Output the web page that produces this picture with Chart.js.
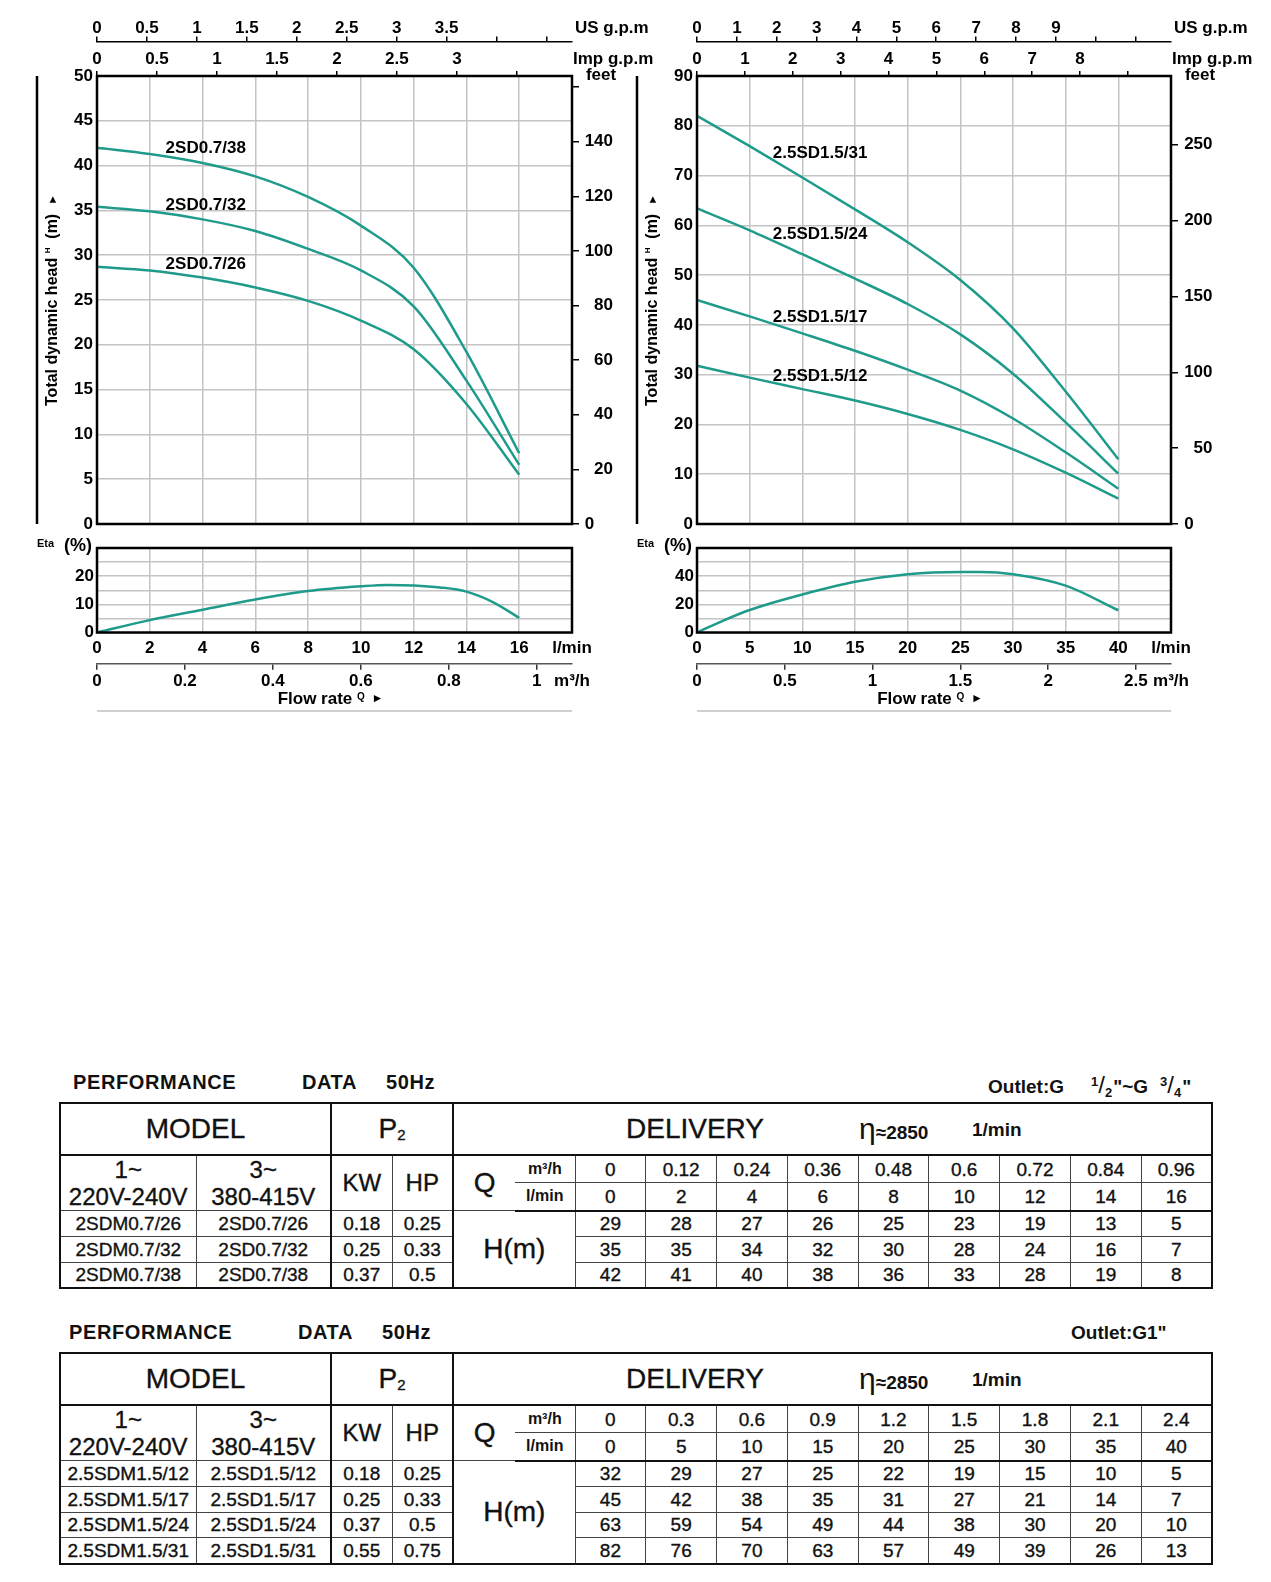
<!DOCTYPE html>
<html>
<head>
<meta charset="utf-8">
<title>2SD0.7 / 2.5SD1.5 performance curves</title>
<script src="https://cdn.jsdelivr.net/npm/chart.js@4.4.1/dist/chart.umd.min.js"></script>
<style>
  html, body { margin: 0; padding: 0; background: #fff; }
  body { position: relative; width: 1271px; height: 1582px; overflow: hidden;
         font-family: "Liberation Sans", Arial, sans-serif; color: #111; }
  canvas { position: absolute; }
  .caption { position: absolute; font-weight: bold; white-space: nowrap; line-height: 1; }
  .caption.head { font-size: 20px; letter-spacing: 0.6px; }
  .caption.outlet { font-size: 19px; }
  .fr { display: inline-block; position: relative; margin: 0 1px; }
  .fr sup { font-size: 13px; vertical-align: 7px; }
  .fr sub { font-size: 13px; vertical-align: -4px; }
  .fr .sl { font-size: 24px; font-weight: normal; }

  table.perf { position: absolute; left: 59px; width: 1152px; border-collapse: collapse;
               table-layout: fixed; border: 2px solid #111; }
  table.perf td { border: 1.5px solid #444; text-align: center; vertical-align: middle; padding: 0;
                  font-size: 19px; line-height: 1; white-space: nowrap; overflow: hidden;
                  -webkit-text-stroke: 0.35px #111; }
  table.perf tr.r1 td { height: 50px; font-size: 28px; border-bottom: 2px solid #111; }
  table.perf tr.r2 td { height: 25px; }
  table.perf tr.r3 td { height: 25px; border-bottom: 2px solid #111; }
  table.perf tr.rd td { height: 24.5px; }
  table.perf td.ph { font-size: 24px; line-height: 27px; }
  table.perf td.kw { font-size: 24px; }
  table.perf td.q { font-size: 28px; border-right-style: hidden; }
  table.perf td.unit { font-size: 16px; font-weight: bold; border-left-style: hidden; -webkit-text-stroke: 0; }
  table.perf td.hm { font-size: 28px; }
  table.perf td.sep { border-right: 2px solid #111; }
  table.perf td.deliv { position: relative; text-align: left; }
  td.deliv span { position: absolute; top: 50%; transform: translateY(-50%); white-space: nowrap; }
  td.deliv .rpm { font-weight: bold; font-size: 19px; -webkit-text-stroke: 0; }
  td.deliv .rpm b { font-size: 30px; font-weight: normal; }
  .p2 { font-size: 15px; vertical-align: -2px; }
</style>
</head>
<body>
<canvas id="headA" width="665" height="540" style="left:0;top:0"></canvas>
<canvas id="etaA" width="665" height="195" style="left:0;top:530px"></canvas>
<canvas id="headB" width="646" height="540" style="left:625px;top:0"></canvas>
<canvas id="etaB" width="646" height="195" style="left:625px;top:530px"></canvas>

<div class="caption head" style="left:73px;top:1072px">PERFORMANCE</div>
<div class="caption head" style="left:302px;top:1072px">DATA</div>
<div class="caption head" style="left:386px;top:1072px">50Hz</div>
<div class="caption outlet" style="left:988px;top:1073px">Outlet:G<span style="margin-left:26px"></span><span class="fr"><sup>1</sup><span class="sl">/</span><sub>2</sub></span>"~G<span style="margin-left:11px"></span><span class="fr"><sup>3</sup><span class="sl">/</span><sub>4</sub></span>"</div>
<table class="perf" id="tableA" style="top:1102px"></table>

<div class="caption head" style="left:69px;top:1322px">PERFORMANCE</div>
<div class="caption head" style="left:298px;top:1322px">DATA</div>
<div class="caption head" style="left:382px;top:1322px">50Hz</div>
<div class="caption outlet" style="left:1071px;top:1323px">Outlet:G1"</div>
<table class="perf" id="tableB" style="top:1352px"></table>

<script>
const FONT = '"Liberation Sans", Arial, sans-serif';
const TEAL = '#1f9b8b';
const GRID = '#c4c4c4';
const US_GAL = 3.78541;   // l per US gallon
const IMP_GAL = 4.54609;  // l per Imp gallon
const FOOT = 0.3048;      // m per foot
const M3H_PER_LPM = 0.06;

// ---- 2SD0.7 family (Q in l/min, H in m)
const flowA = [0, 2, 4, 6, 8, 10, 12, 14, 16];
// curves
const curveA26 = [28.7, 28.3, 27.5, 26.4, 24.9, 22.7, 19.5, 13.4, 5.5];
const curveA32 = [35.4, 34.9, 34.0, 32.7, 30.7, 28.3, 24.3, 16.0, 6.6];
const curveA38 = [42.0, 41.3, 40.3, 38.8, 36.5, 33.3, 28.6, 19.2, 7.9];
// rounded values printed in the table
const headA26 = [29, 28, 27, 26, 25, 23, 19, 13, 5];
const headA32 = [35, 35, 34, 32, 30, 28, 24, 16, 7];
const headA38 = [42, 41, 40, 38, 36, 33, 28, 19, 8];
const namesA = ['2SD0.7/26', '2SD0.7/32', '2SD0.7/38'];
const etaFlowA = [0, 2, 4, 6, 8, 10, 11, 12, 13, 14, 15, 16];
const etaA = [0, 4.4, 8.1, 11.7, 14.7, 16.4, 16.9, 16.7, 16.0, 14.5, 10.8, 5.2];

const lpmTicksA = [0, 2, 4, 6, 8, 10, 12, 14, 16, 18];
const headTicksA = [0, 5, 10, 15, 20, 25, 30, 35, 40, 45, 50];
const feetTicksA = [0, 20, 40, 60, 80, 100, 120, 140, 160];
const usTicksA = [0, 0.5, 1, 1.5, 2, 2.5, 3, 3.5, 4, 4.5];
const impTicksA = [0, 0.5, 1, 1.5, 2, 2.5, 3, 3.5];
const m3TicksA = [0, 0.2, 0.4, 0.6, 0.8, 1];
const etaTicksA = [0, 5, 10, 15, 20, 25, 30];

// ---- 2.5SD1.5 family
const flowB = [0, 5, 10, 15, 20, 25, 30, 35, 40];
const curveB12 = [31.8, 29.4, 27.1, 24.8, 22.1, 18.9, 15.0, 10.3, 5.1];
const curveB17 = [45.0, 41.7, 38.3, 34.8, 31.0, 26.8, 21.2, 14.4, 7.1];
const curveB24 = [63.4, 59.0, 54.2, 49.3, 44.2, 38.1, 30.2, 20.4, 10.1];
const curveB31 = [82.0, 75.9, 69.6, 63.2, 56.6, 49.0, 39.3, 26.6, 13.0];
const headB12 = [32, 29, 27, 25, 22, 19, 15, 10, 5];
const headB17 = [45, 42, 38, 35, 31, 27, 21, 14, 7];
const headB24 = [63, 59, 54, 49, 44, 38, 30, 20, 10];
const headB31 = [82, 76, 70, 63, 57, 49, 39, 26, 13];
const namesB = ['2.5SD1.5/12', '2.5SD1.5/17', '2.5SD1.5/24', '2.5SD1.5/31'];
const etaFlowB = [0, 2.5, 5, 10, 15, 20, 25, 27, 30, 35, 40];
const etaB = [0, 8.5, 16, 27, 36, 41.4, 43, 43, 41.4, 33.3, 15.8];

const lpmTicksB = [0, 5, 10, 15, 20, 25, 30, 35, 40, 45];
const headTicksB = [0, 10, 20, 30, 40, 50, 60, 70, 80, 90];
const feetTicksB = [0, 50, 100, 150, 200, 250];
const usTicksB = [0, 1, 2, 3, 4, 5, 6, 7, 8, 9, 10, 11];
const impTicksB = [0, 1, 2, 3, 4, 5, 6, 7, 8, 9];
const m3TicksB = [0, 0.5, 1, 1.5, 2, 2.5];
const etaTicksB = [0, 10, 20, 30, 40, 50, 60];

// ---- table columns
const qM3A = ['0', '0.12', '0.24', '0.36', '0.48', '0.6', '0.72', '0.84', '0.96'];
const qM3B = ['0', '0.3', '0.6', '0.9', '1.2', '1.5', '1.8', '2.1', '2.4'];
const singleA = ['2SDM0.7/26', '2SDM0.7/32', '2SDM0.7/38'];
const kwA = ['0.18', '0.25', '0.37'];
const hpA = ['0.25', '0.33', '0.5'];
const singleB = ['2.5SDM1.5/12', '2.5SDM1.5/17', '2.5SDM1.5/24', '2.5SDM1.5/31'];
const kwB = ['0.18', '0.25', '0.37', '0.55'];
const hpB = ['0.25', '0.33', '0.5', '0.75'];

const tickFont = { family: FONT, size: 17, weight: 'bold' };

function tickList(values) {
  return scale => { scale.ticks = values.map(v => ({ value: v })); };
}
function fixSize(size) {
  return scale => {
    if (scale.isHorizontal()) {
      scale.height = size; scale.paddingLeft = 0; scale.paddingRight = 0;
    } else {
      scale.width = size; scale.paddingTop = 0; scale.paddingBottom = 0;
    }
  };
}
function valueAt(points, x) {
  for (let i = 1; i < points.length; i++) {
    if (x <= points[i].x) {
      const a = points[i - 1], b = points[i];
      return a.y + (b.y - a.y) * (x - a.x) / (b.x - a.x);
    }
  }
  return points[points.length - 1].y;
}

function drawParts(ctx, parts, cx, cy) {
  let w = 0;
  parts.forEach(p => { ctx.font = p.f; p.w = ctx.measureText(p.t).width; w += p.w; });
  let x = cx - w / 2;
  parts.forEach(p => { ctx.font = p.f; ctx.fillText(p.t, x, cy + p.dy); x += p.w; });
}

function drawHeadTitle(ctx, x, y) {
  ctx.save();
  ctx.translate(x, y);
  ctx.rotate(-Math.PI / 2);
  ctx.textBaseline = 'middle';
  ctx.textAlign = 'left';
  drawParts(ctx, [
    { t: 'Total dynamic head ', f: 'bold 16px ' + FONT, dy: 0 },
    { t: 'H', f: 'bold 8px ' + FONT, dy: -5 },
    { t: '  (m)  ', f: 'bold 16px ' + FONT, dy: 0 },
    { t: '\u25BA', f: '11px ' + FONT, dy: 0 }
  ], 0, 0);
  ctx.restore();
}

function frame(ctx, a) {
  ctx.strokeStyle = '#000';
  ctx.lineWidth = 2.5;
  ctx.strokeRect(a.left, a.top, a.right - a.left, a.bottom - a.top);
}

const headDecor = p => ({
  id: 'headDecor',
  afterDraw(chart) {
    const { ctx, chartArea: a, scales } = chart;
    ctx.save();
    frame(ctx, a);
    ctx.beginPath();
    ctx.moveTo(a.left - 60, a.top);
    ctx.lineTo(a.left - 60, a.bottom);
    ctx.stroke();

    ctx.fillStyle = '#000';
    ctx.font = 'bold 17px ' + FONT;
    ctx.textBaseline = 'middle';
    ctx.textAlign = 'left';
    ctx.fillText('US g.p.m', a.right + 3, scales.us.bottom - 13);
    ctx.fillText('Imp g.p.m', a.right + 1, scales.imp.bottom - 16.5);
    ctx.textAlign = 'center';
    ctx.fillText('feet', a.right + 29, a.top - 0.5);

    drawHeadTitle(ctx, a.left - 44, (a.top + a.bottom) / 2);

    // model names sit just above their curves
    ctx.font = 'bold 17px ' + FONT;
    ctx.textAlign = 'left';
    chart.data.datasets.forEach(ds => {
      const yv = valueAt(ds.data, p.nameAt);
      ctx.fillText(ds.label, scales.x.getPixelForValue(p.nameAt),
                   scales.y.getPixelForValue(yv) - p.nameLift);
    });
    ctx.restore();
  }
});

const etaDecor = {
  id: 'etaDecor',
  afterDraw(chart) {
    const { ctx, chartArea: a } = chart;
    ctx.save();
    frame(ctx, a);
    ctx.fillStyle = '#000';
    ctx.textBaseline = 'middle';
    ctx.textAlign = 'left';
    ctx.font = 'bold 11px ' + FONT;
    ctx.fillText('Eta', a.left - 60, a.top - 4);
    ctx.font = 'bold 18px ' + FONT;
    ctx.fillText('(%)', a.left - 33, a.top - 2);

    drawParts(ctx, [
      { t: 'Flow rate ', f: 'bold 17px ' + FONT, dy: 0 },
      { t: 'Q', f: 'bold 10px ' + FONT, dy: -2 },
      { t: '  \u25BA', f: '12px ' + FONT, dy: 0 }
    ], (a.left + a.right) / 2 - 4, a.bottom + 66.5);

    ctx.strokeStyle = '#cfcfcf';
    ctx.lineWidth = 2;
    ctx.beginPath();
    ctx.moveTo(a.left, a.bottom + 78.5);
    ctx.lineTo(a.right, a.bottom + 78.5);
    ctx.stroke();
    ctx.restore();
  }
};

function headChart(id, p) {
  const datasets = p.curves.map(c => ({
    label: c.name,
    data: p.flow.map((q, i) => ({ x: q, y: c.head[i] })),
    borderColor: TEAL,
    borderWidth: 2.5,
    pointRadius: 0,
    fill: false,
    cubicInterpolationMode: 'monotone',
    xAxisID: 'x',
    yAxisID: 'y'
  }));
  const lpmMax = p.lpmTicks[p.lpmTicks.length - 1];
  return new Chart(document.getElementById(id), {
    type: 'line',
    data: { datasets },
    options: {
      responsive: false,
      animation: false,
      layout: { padding: { left: 0, right: p.padR, top: 0, bottom: 0 } },
      plugins: { legend: { display: false }, tooltip: { enabled: false } },
      scales: {
        x: {
          type: 'linear', position: 'bottom', min: 0, max: lpmMax,
          afterBuildTicks: tickList(p.lpmTicks), afterFit: fixSize(16),
          grid: { color: GRID, lineWidth: 1.5, drawTicks: false },
          border: { display: false },
          ticks: { display: false }
        },
        imp: {
          type: 'linear', axis: 'x', position: 'top', weight: 0, min: 0, max: lpmMax / IMP_GAL,
          afterBuildTicks: tickList(p.impTicks), afterFit: fixSize(34.6),
          grid: { drawOnChartArea: false, drawTicks: true, tickLength: 5, color: '#000', lineWidth: 1.5 },
          border: { display: false },
          ticks: { font: tickFont, color: '#000', padding: 1, maxRotation: 0, autoSkip: false,
                   callback: v => v <= p.impLabelMax ? String(v) : '' }
        },
        us: {
          type: 'linear', axis: 'x', position: 'top', weight: 1, min: 0, max: lpmMax / US_GAL,
          afterBuildTicks: tickList(p.usTicks), afterFit: fixSize(41.4),
          grid: { drawOnChartArea: false, drawTicks: true, tickLength: 5, color: '#000', lineWidth: 1.5 },
          border: { display: true, color: '#000', width: 1.5 },
          ticks: { font: tickFont, color: '#000', padding: -2, maxRotation: 0, autoSkip: false,
                   callback: v => v <= p.usLabelMax ? String(v) : '' }
        },
        y: {
          type: 'linear', position: 'left', min: 0, max: p.headTicks[p.headTicks.length - 1],
          afterBuildTicks: tickList(p.headTicks), afterFit: fixSize(p.leftW),
          grid: { color: GRID, lineWidth: 1.5, drawTicks: false },
          border: { display: false },
          ticks: { font: tickFont, color: '#000', padding: 4, autoSkip: false }
        },
        ft: {
          type: 'linear', axis: 'y', position: 'right', min: 0,
          max: p.headTicks[p.headTicks.length - 1] / FOOT,
          afterBuildTicks: tickList(p.feetTicks), afterFit: fixSize(p.ftW),
          grid: { drawOnChartArea: false, drawTicks: true, tickLength: 7, color: '#000', lineWidth: 1.5 },
          border: { display: false },
          // 'far' right-aligns the labels on the outer edge of this axis box;
          // the zero sits further in, as on the original sheet
          ticks: { font: tickFont, color: '#000', padding: 4, autoSkip: false, crossAlign: 'far',
                   callback: v => v === 0 ? '0\u2007\u2007' : (v <= p.feetLabelMax ? String(v) : '') }
        }
      }
    },
    plugins: [headDecor(p)]
  });
}

function etaChart(id, p) {
  const lpmMax = p.lpmTicks[p.lpmTicks.length - 1];
  const m3Max = lpmMax * M3H_PER_LPM;
  const m3Last = p.m3Ticks[p.m3Ticks.length - 1];
  return new Chart(document.getElementById(id), {
    type: 'line',
    data: {
      datasets: [{
        data: p.etaFlow.map((q, i) => ({ x: q, y: p.eta[i] })),
        borderColor: TEAL,
        borderWidth: 2.5,
        pointRadius: 0,
        fill: false,
        cubicInterpolationMode: 'monotone',
        xAxisID: 'x',
        yAxisID: 'y'
      }]
    },
    options: {
      responsive: false,
      animation: false,
      layout: { padding: { left: 0, right: p.rightW, top: 18, bottom: 0 } },
      plugins: { legend: { display: false }, tooltip: { enabled: false } },
      scales: {
        x: {
          type: 'linear', position: 'bottom', weight: 0, min: 0, max: lpmMax,
          afterBuildTicks: tickList(p.lpmTicks), afterFit: fixSize(31.2),
          grid: { color: GRID, lineWidth: 1.5, drawTicks: false },
          border: { display: false },
          ticks: { font: tickFont, color: '#000', padding: 6, maxRotation: 0, autoSkip: false,
                   callback: v => v === lpmMax ? 'l/min' : String(v) }
        },
        m3: {
          type: 'linear', axis: 'x', position: 'bottom', weight: 1, min: 0, max: m3Max,
          afterBuildTicks: tickList(p.m3Ticks.concat([m3Max])), afterFit: fixSize(61.3),
          grid: { drawOnChartArea: false, drawTicks: true, tickLength: 6, lineWidth: 1.5,
                  color: c => (c.tick && c.tick.value > m3Last) ? 'rgba(0,0,0,0)' : '#333' },
          border: { display: true, color: '#555', width: 1.5 },
          ticks: { font: tickFont, color: '#000', padding: 1, maxRotation: 0, autoSkip: false,
                   callback: v => v > m3Last ? 'm\u00B3/h' : String(v) }
        },
        y: {
          type: 'linear', position: 'left', min: 0, max: p.etaTicks[p.etaTicks.length - 1],
          afterBuildTicks: tickList(p.etaTicks), afterFit: fixSize(p.leftW),
          grid: { color: GRID, lineWidth: 1.5, drawTicks: false },
          border: { display: false },
          ticks: { font: tickFont, color: '#000', padding: 3, autoSkip: false,
                   callback: v => (v % p.etaLabelStep === 0 && v < p.etaTicks[p.etaTicks.length - 1]) ? String(v) : '' }
        }
      }
    },
    plugins: [etaDecor]
  });
}

function buildTable(id, t) {
  const widths = [136, 135, 61, 61, 62, 60].concat(t.m3.map(() => 637 / 9));
  let html = '<colgroup>' + widths.map(w => '<col style="width:' + w + 'px">').join('') + '</colgroup>';
  html += '<tr class="r1"><td colspan="2" class="sep">MODEL</td>' +
          '<td colspan="2" class="sep">P<span class="p2">2</span></td>' +
          '<td colspan="' + (2 + t.m3.length) + '" class="deliv">' +
          '<span style="left:172px">DELIVERY</span>' +
          '<span class="rpm" style="left:405px"><b>\u03B7</b>\u22482850</span>' +
          '<span class="rpm" style="left:518px">1/min</span></td></tr>';
  html += '<tr class="r2"><td rowspan="2" class="ph">1~<br>220V-240V</td>' +
          '<td rowspan="2" class="ph sep">3~<br>380-415V</td>' +
          '<td rowspan="2" class="kw">KW</td><td rowspan="2" class="kw sep">HP</td>' +
          '<td rowspan="2" class="q">Q</td><td class="unit">m\u00B3/h</td>' +
          t.m3.map(v => '<td>' + v + '</td>').join('') + '</tr>';
  html += '<tr class="r3"><td class="unit">l/min</td>' +
          t.lpm.map(v => '<td>' + v + '</td>').join('') + '</tr>';
  t.single.forEach((name, i) => {
    html += '<tr class="rd"><td>' + name + '</td><td class="sep">' + t.three[i] + '</td>' +
            '<td>' + t.kw[i] + '</td><td class="sep">' + t.hp[i] + '</td>' +
            (i === 0 ? '<td colspan="2" rowspan="' + t.single.length + '" class="hm">H(m)</td>' : '') +
            t.heads[i].map(v => '<td>' + v + '</td>').join('') + '</tr>';
  });
  document.getElementById(id).innerHTML = html;
}

Chart.defaults.font.family = FONT;
Chart.defaults.color = '#000';

headChart('headA', {
  flow: flowA,
  curves: [
    { name: namesA[0], head: curveA26 },
    { name: namesA[1], head: curveA32 },
    { name: namesA[2], head: curveA38 }
  ],
  lpmTicks: lpmTicksA, headTicks: headTicksA, feetTicks: feetTicksA,
  usTicks: usTicksA, impTicks: impTicksA,
  usLabelMax: 3.5, impLabelMax: 3, feetLabelMax: 140,
  leftW: 97, ftW: 41, padR: 52, nameAt: 2.6, nameLift: 8
});
etaChart('etaA', {
  etaFlow: etaFlowA, eta: etaA, lpmTicks: lpmTicksA, m3Ticks: m3TicksA,
  etaTicks: etaTicksA, etaLabelStep: 10, leftW: 97, rightW: 93
});

headChart('headB', {
  flow: flowB,
  curves: [
    { name: namesB[0], head: curveB12 },
    { name: namesB[1], head: curveB17 },
    { name: namesB[2], head: curveB24 },
    { name: namesB[3], head: curveB31 }
  ],
  lpmTicks: lpmTicksB, headTicks: headTicksB, feetTicks: feetTicksB,
  usTicks: usTicksB, impTicks: impTicksB,
  usLabelMax: 9, impLabelMax: 8, feetLabelMax: 250,
  leftW: 72, ftW: 41.5, padR: 58.5, nameAt: 7.2, nameLift: 6.5
});
etaChart('etaB', {
  etaFlow: etaFlowB, eta: etaB, lpmTicks: lpmTicksB, m3Ticks: m3TicksB,
  etaTicks: etaTicksB, etaLabelStep: 20, leftW: 72, rightW: 100
});

buildTable('tableA', {
  m3: qM3A, lpm: flowA, single: singleA, three: namesA, kw: kwA, hp: hpA,
  heads: [headA26, headA32, headA38]
});
buildTable('tableB', {
  m3: qM3B, lpm: flowB, single: singleB, three: namesB, kw: kwB, hp: hpB,
  heads: [headB12, headB17, headB24, headB31]
});
</script>
</body>
</html>
